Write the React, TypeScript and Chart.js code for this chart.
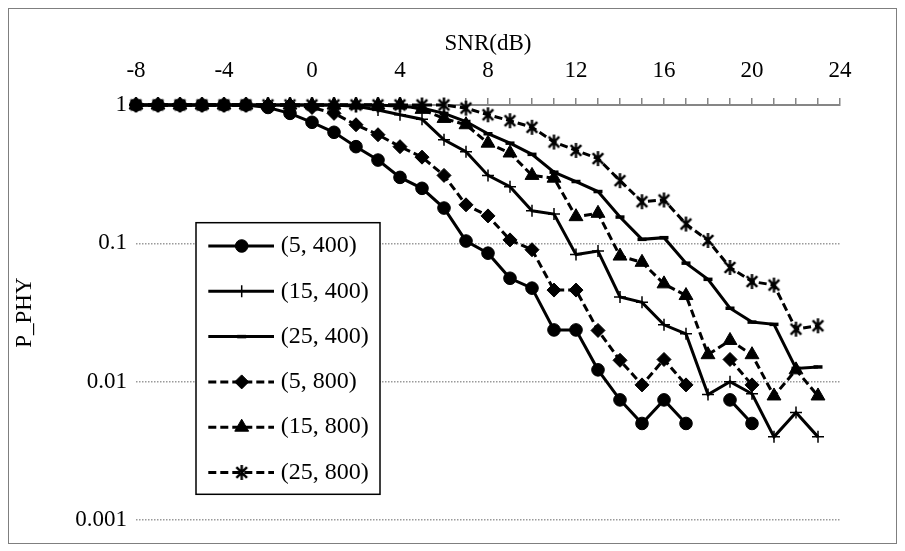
import React, { useEffect, useRef } from 'react';
import { Chart, registerables } from 'chart.js';
import { drawPoint } from 'chart.js/helpers';

Chart.register(...registerables);

const snr = [-8, -7, -6, -5, -4, -3, -2, -1, 0, 1, 2, 3, 4, 5, 6, 7, 8, 9, 10, 11, 12, 13, 14, 15, 16, 17, 18, 19, 20, 21, 22, 23];

const p5_400 = [1, 1, 1, 1, 1, 1, 0.96, 0.87, 0.75, 0.635, 0.5, 0.4, 0.3, 0.25, 0.18, 0.104, 0.085, 0.056, 0.0475, 0.0237, 0.0237, 0.0122, 0.0074, 0.005, 0.0074, 0.005, null, 0.0074, 0.005, null, null, null];
const p15_400 = [1, 1, 1, 1, 1, 1, 1, 1, 1, 1, 0.98, 0.92, 0.85, 0.79, 0.56, 0.46, 0.31, 0.257, 0.172, 0.163, 0.083, 0.088, 0.041, 0.0375, 0.0258, 0.0222, 0.0081, 0.01, 0.0082, 0.004, 0.006, 0.004];
const p25_400 = [1, 1, 1, 1, 1, 1, 1, 1, 1, 1, 1, 1, 0.98, 0.95, 0.87, 0.76, 0.62, 0.53, 0.44, 0.327, 0.28, 0.237, 0.155, 0.107, 0.11, 0.072, 0.055, 0.034, 0.027, 0.026, 0.0125, 0.0128];
const p5_800 = [1, 1, 1, 1, 1, 1, 1, 1, 0.96, 0.87, 0.72, 0.61, 0.5, 0.42, 0.31, 0.19, 0.158, 0.106, 0.09, 0.046, 0.046, 0.0235, 0.0143, 0.0095, 0.0145, 0.0095, null, 0.0145, 0.0095, null, null, null];
const p15_800 = [1, 1, 1, 1, 1, 1, 1, 1, 1, 1, 1, 1, 1, 0.93, 0.8, 0.72, 0.53, 0.45, 0.31, 0.296, 0.156, 0.165, 0.081, 0.073, 0.051, 0.042, 0.0157, 0.0199, 0.0157, 0.0079, 0.0122, 0.0079];
const p25_800 = [1, 1, 1, 1, 1, 1, 1, 1, 1, 1, 1, 1, 1, 1, 1, 0.95, 0.85, 0.77, 0.69, 0.54, 0.47, 0.41, 0.284, 0.2, 0.206, 0.138, 0.105, 0.067, 0.053, 0.05, 0.024, 0.0254];

const seriesNames = ['(5, 400)', '(15, 400)', '(25, 400)', '(5, 800)', '(15, 800)', '(25, 800)'];
const xTickLabels = ['-8', '-4', '0', '4', '8', '12', '16', '20', '24'];
const yTickValues = [0.001, 0.01, 0.1, 1];
const yTickLabels = ['0.001', '0.01', '0.1', '1'];

const FONT = "'Liberation Serif', 'Times New Roman', serif";

function makeAsterisk(size: number, lw: number): HTMLCanvasElement {
  const c = document.createElement('canvas');
  c.width = size;
  c.height = size;
  const g = c.getContext('2d')!;
  g.strokeStyle = '#000';
  g.lineWidth = lw;
  const m = size / 2;
  const r = size / 2 - 1;
  const d = r * Math.SQRT1_2;
  g.beginPath();
  g.moveTo(m, m - r);
  g.lineTo(m, m + r);
  g.moveTo(m - d, m - d);
  g.lineTo(m + d, m + d);
  g.moveTo(m + d, m - d);
  g.lineTo(m - d, m + d);
  g.stroke();
  return c;
}

const legendPlugin = {
  id: 'boxLegend',
  afterDraw(chart: any) {
    const ctx = chart.ctx as CanvasRenderingContext2D;
    const ca = chart.chartArea;
    const left = ca.left + 60;
    const top = ca.top + 117.7;
    const w = 184;
    const h = 271.6;
    ctx.save();
    ctx.fillStyle = '#fff';
    ctx.fillRect(left, top, w, h);
    ctx.strokeStyle = '#000';
    ctx.lineWidth = 1.5;
    ctx.setLineDash([]);
    ctx.strokeRect(left, top, w, h);
    chart.data.datasets.forEach((ds: any, i: number) => {
      const y = top + 23.3 + i * 45.3;
      ctx.beginPath();
      ctx.setLineDash(ds.borderDash || []);
      ctx.lineWidth = ds.borderWidth;
      ctx.strokeStyle = '#000';
      ctx.moveTo(left + 12.3, y);
      ctx.lineTo(left + 78, y);
      ctx.stroke();
      ctx.setLineDash([]);
      ctx.fillStyle = '#000';
      ctx.strokeStyle = '#000';
      ctx.lineWidth = ds.pointBorderWidth;
      drawPoint(ctx, { pointStyle: ds.pointStyle, radius: ds.pointRadius, borderWidth: ds.pointBorderWidth, rotation: 0 } as any, left + 45.7, y);
      ctx.fillStyle = '#000';
      ctx.font = `24px ${FONT}`;
      ctx.textAlign = 'left';
      ctx.textBaseline = 'middle';
      ctx.fillText(ds.label, left + 84.7, y);
    });
    ctx.restore();
  },
};

export default function App() {
  const ref = useRef<HTMLCanvasElement | null>(null);

  useEffect(() => {
    if (!ref.current) return;
    const star = makeAsterisk(17, 2.4);
    const toPts = (arr: (number | null)[]) => snr.map((x, i) => ({ x, y: arr[i] }));
    const solid: number[] = [];
    const dashed = [8, 4];
    const base = {
      borderColor: '#000',
      backgroundColor: '#000',
      pointBackgroundColor: '#000',
      pointBorderColor: '#000',
      borderWidth: 3,
      tension: 0,
      clip: false as any,
      spanGaps: false,
      pointHoverRadius: 0,
    };
    const chart = new Chart(ref.current, {
      type: 'line',
      data: {
        datasets: [
          { ...base, label: seriesNames[0], data: toPts(p5_400), borderDash: solid, pointStyle: 'circle', pointRadius: 6.3, pointBorderWidth: 1 },
          { ...base, label: seriesNames[1], data: toPts(p15_400), borderDash: solid, pointStyle: 'cross', pointRadius: 6, pointBorderWidth: 1.5 },
          { ...base, label: seriesNames[2], data: toPts(p25_400), borderDash: solid, pointStyle: 'line', pointRadius: 4.5, pointBorderWidth: 3.5 },
          { ...base, label: seriesNames[3], data: toPts(p5_800), borderDash: dashed, pointStyle: 'rectRot', pointRadius: 7, pointBorderWidth: 1 },
          { ...base, label: seriesNames[4], data: toPts(p15_800), borderDash: dashed, pointStyle: 'triangle', pointRadius: 8, pointBorderWidth: 1 },
          { ...base, label: seriesNames[5], data: toPts(p25_800), borderDash: dashed, pointStyle: star as any, pointRadius: 8, pointBorderWidth: 2.4 },
        ] as any,
      },
      options: {
        animation: false,
        responsive: false,
        events: [],
        layout: { padding: { left: 0, right: 56, top: 0, bottom: 22.5 } },
        plugins: { legend: { display: false }, tooltip: { enabled: false } },
        scales: {
          x: {
            type: 'linear',
            position: 'top',
            min: -8,
            max: 24,
            afterFit: (s: any) => { s.height = 96; },
            ticks: {
              stepSize: 1,
              autoSkip: false,
              maxRotation: 0,
              padding: 13.2,
              color: '#000',
              font: { family: FONT, size: 23 },
              callback: (v: any) => (xTickLabels.includes(String(v)) ? String(v) : ''),
            },
            grid: { drawOnChartArea: false, drawTicks: true, tickLength: 7, color: '#868686', lineWidth: 1.5 },
            border: { display: true, color: '#868686', width: 2 },
            title: { display: true, text: 'SNR(dB)', color: '#000', font: { family: FONT, size: 23 }, padding: { top: 21.2, bottom: 0 } },
          },
          y: {
            type: 'logarithmic',
            min: 0.001,
            max: 1,
            afterFit: (s: any) => { s.width = 127; },
            afterBuildTicks: (s: any) => { s.ticks = yTickValues.map((v) => ({ value: v })); },
            ticks: {
              padding: 9,
              color: '#000',
              font: { family: FONT, size: 23 },
              callback: (v: any) => { const i = yTickValues.indexOf(Number(v)); return i >= 0 ? yTickLabels[i] : ''; },
            },
            grid: {
              drawTicks: false,
              lineWidth: 1.5,
              color: (c: any) => (c.tick && c.tick.value === 1 ? 'rgba(0,0,0,0)' : '#9a9a9a'),
            },
            border: { display: false, dash: [1.5, 1.5] },
            title: { display: true, text: 'P_PHY', color: '#000', font: { family: FONT, size: 23 }, padding: { top: 2.2, bottom: 0 } },
          },
        },
      } as any,
      plugins: [legendPlugin],
    });
    return () => chart.destroy();
  }, []);

  return (
    <div style={{ width: 887, height: 534, border: '1px solid #7f7f7f', background: '#fff' }}>
      <canvas ref={ref} width={887} height={534} style={{ display: 'block' }} />
    </div>
  );
}
